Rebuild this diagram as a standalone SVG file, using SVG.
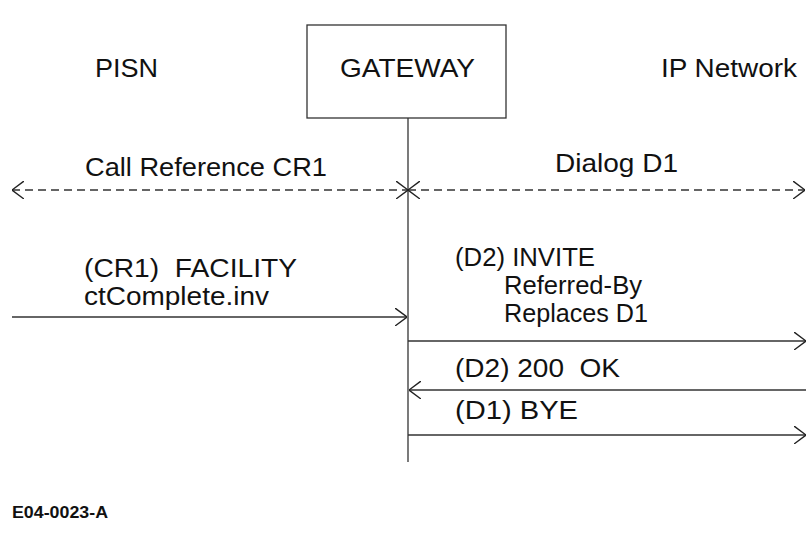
<svg xmlns="http://www.w3.org/2000/svg" width="810" height="535" viewBox="0 0 810 535">
  <style>
    .t { font-family: "Liberation Sans", Arial, sans-serif; font-size: 26px; fill: #111; }
    .id { font-family: "Liberation Sans", Arial, sans-serif; font-size: 16px; font-weight: bold; fill: #111; }
    .ln { stroke: #333; stroke-width: 1.3; fill: none; }
    .dash { stroke-dasharray: 8 5; }
  </style>
  <defs>
    <marker id="arr" viewBox="0 0 12 18" refX="12" refY="9" markerWidth="12" markerHeight="18" markerUnits="userSpaceOnUse" orient="auto-start-reverse">
      <path d="M0,0 L12,9 L0,18" fill="none" stroke="#222" stroke-width="1.4"/>
    </marker>
  </defs>
  <rect width="810" height="535" fill="#fff"/>

  <g id="pisn"><text class="t" x="95" y="77" textLength="63" lengthAdjust="spacingAndGlyphs">PISN</text></g>
  <g id="gateway">
    <rect x="307" y="25" width="199" height="93" fill="none" stroke="#333" stroke-width="1.3"/>
    <text class="t" x="340" y="77" textLength="135" lengthAdjust="spacingAndGlyphs">GATEWAY</text>
  </g>
  <g id="ipnet"><text class="t" x="661" y="77" textLength="136" lengthAdjust="spacingAndGlyphs">IP Network</text></g>

  <g id="connectors">
    <line class="ln" x1="408" y1="118" x2="408" y2="462"/>
    <line class="ln dash" x1="12" y1="190" x2="408" y2="190" marker-start="url(#arr)" marker-end="url(#arr)"/>
    <line class="ln dash" x1="408" y1="190" x2="805" y2="190" marker-start="url(#arr)" marker-end="url(#arr)"/>
    <line class="ln" x1="12" y1="317" x2="407" y2="317" marker-end="url(#arr)"/>
    <line class="ln" x1="408" y1="341" x2="806" y2="341" marker-end="url(#arr)"/>
    <line class="ln" x1="806" y1="390" x2="409" y2="390" marker-end="url(#arr)"/>
    <line class="ln" x1="408" y1="435" x2="806" y2="435" marker-end="url(#arr)"/>
  </g>

  <g id="labels">
    <text class="t" x="85" y="176" textLength="242" lengthAdjust="spacingAndGlyphs">Call Reference CR1</text>
    <text class="t" x="555" y="172" textLength="123" lengthAdjust="spacingAndGlyphs">Dialog D1</text>
    <text class="t" x="84" y="277" xml:space="preserve" textLength="213" lengthAdjust="spacingAndGlyphs">(CR1)  FACILITY</text>
    <text class="t" x="84" y="305" textLength="185" lengthAdjust="spacingAndGlyphs">ctComplete.inv</text>
    <text class="t" x="455" y="266" textLength="140" lengthAdjust="spacingAndGlyphs">(D2) INVITE</text>
    <text class="t" x="504" y="294" textLength="138" lengthAdjust="spacingAndGlyphs">Referred-By</text>
    <text class="t" x="504" y="322" textLength="144" lengthAdjust="spacingAndGlyphs">Replaces D1</text>
    <text class="t" x="455" y="377" xml:space="preserve" textLength="165" lengthAdjust="spacingAndGlyphs">(D2) 200  OK</text>
    <text class="t" x="455" y="419" textLength="123" lengthAdjust="spacingAndGlyphs">(D1) BYE</text>
  </g>
  <g id="figid"><text class="id" x="12" y="518" textLength="96" lengthAdjust="spacingAndGlyphs">E04-0023-A</text></g>
</svg>
